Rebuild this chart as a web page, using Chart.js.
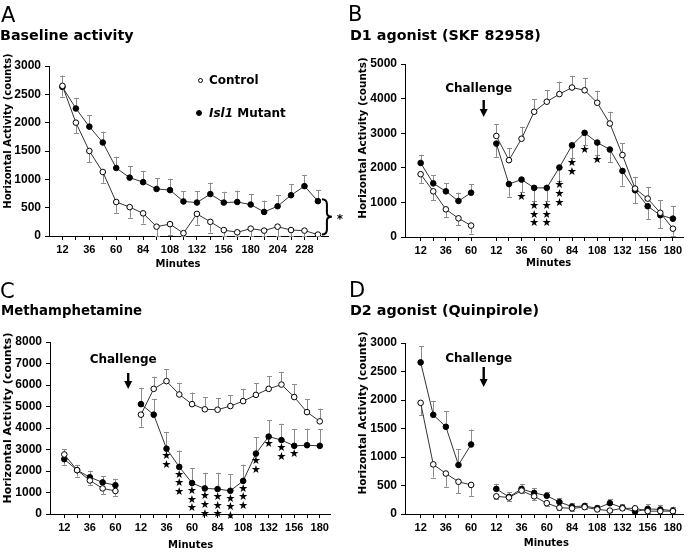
<!DOCTYPE html>
<html>
<head>
<meta charset="utf-8">
<script src="https://cdn.jsdelivr.net/npm/chart.js@4"></script>
<style>
  body { margin: 0; background: #fff; }
  #fig { position: relative; width: 688px; height: 552px; overflow: hidden; font-family: "DejaVu Sans", sans-serif; color: #000; }
  .panel { position: absolute; width: 344px; height: 276px; }
  .t { position: absolute; white-space: nowrap; line-height: 1; }
  .b { font-weight: bold; }
  .c { transform: translate(-50%, -50%); }
  .r { transform: translate(-50%, -50%) rotate(-90deg); }
  .dot { position: absolute; border-radius: 50%; box-sizing: border-box; border: 1px solid #000; }
</style>
</head>
<body>
<div id="fig">
  <div class="panel" style="left:0;top:0"><canvas id="chartA" width="344" height="276"></canvas></div>
  <div class="panel" style="left:344px;top:0"><canvas id="chartB" width="344" height="276"></canvas></div>
  <div class="panel" style="left:0;top:276px"><canvas id="chartC" width="344" height="276"></canvas></div>
  <div class="panel" style="left:344px;top:276px"><canvas id="chartD" width="344" height="276"></canvas></div>

  <div class="t" style="left:1px;top:5px;font-size:21px">A</div>
  <div class="t b" style="left:0;top:28px;font-size:14.3px">Baseline activity</div>
  <div class="t" style="left:348px;top:4px;font-size:21px">B</div>
  <div class="t b" style="left:350px;top:28px;font-size:14.3px">D1 agonist (SKF 82958)</div>
  <div class="t" style="left:0;top:281px;font-size:21px">C</div>
  <div class="t b" style="left:1px;top:304px;font-size:13.3px">Methamphetamine</div>
  <div class="t" style="left:349px;top:280px;font-size:21px">D</div>
  <div class="t b" style="left:350px;top:303px;font-size:14.3px">D2 agonist (Quinpirole)</div>

  <div class="t b r" style="left:7.5px;top:131px;font-size:10px">Horizontal Activity (counts)</div>
  <div class="t b r" style="left:362px;top:137.5px;font-size:10.4px">Horizontal Activity (counts)</div>
  <div class="t b r" style="left:7.3px;top:418px;font-size:11px">Horizontal Activity (counts)</div>
  <div class="t b r" style="left:362.3px;top:412.7px;font-size:10.5px">Horizontal Activity (counts)</div>

  <div class="t b c" style="left:178px;top:264px;font-size:10px">Minutes</div>
  <div class="t b c" style="left:548.7px;top:263.3px;font-size:10px">Minutes</div>
  <div class="t b c" style="left:190.7px;top:545.3px;font-size:10px">Minutes</div>
  <div class="t b c" style="left:546.3px;top:542.7px;font-size:10px">Minutes</div>

  <div class="dot" style="left:197.5px;top:77.5px;width:5px;height:5px;background:#fff"></div>
  <div class="t b" style="left:209px;top:74px;font-size:12px">Control</div>
  <div class="dot" style="left:196px;top:110px;width:6px;height:6px;background:#000"></div>
  <div class="t b" style="left:209px;top:107px;font-size:12px"><i>Isl1</i> Mutant</div>
</div>

<script>
// ---- A: baseline activity, 12-min bins ----
const aMinutes = [12, 24, 36, 48, 60, 72, 84, 96, 108, 120, 132, 144, 156, 168, 180, 192, 204, 216, 228, 240];
const aTickLabels = ['12', '', '36', '', '60', '', '84', '', '108', '', '132', '', '156', '', '180', '', '204', '', '228', ''];
const aControl = [2650, 2000, 1500, 1130, 600, 510, 400, 165, 210, 50, 390, 250, 105, 65, 130, 95, 165, 105, 95, 25];
const aControlErr = [-190, -190, -200, -190, -190, -190, -180, -180, -190, -180, -190, -190, -100, -65, -130, -95, -165, -105, -95, -25];
const aMutant = [2630, 2250, 1930, 1650, 1200, 1030, 950, 830, 810, 610, 590, 740, 590, 600, 555, 425, 525, 720, 880, 615];
const aMutantErr = [200, 190, 200, 190, 200, 200, 200, 190, 200, 180, 200, 200, 190, 200, 190, 200, 190, 200, 200, 190];

// ---- shared x categories for the challenge panels (pre / post) ----
const preMinutes = [12, 24, 36, 48, 60];
const postMinutes = [12, 24, 36, 48, 60, 72, 84, 96, 108, 120, 132, 144, 156, 168, 180];
const challengeTickLabels = ['12', '', '36', '', '60', '12', '', '36', '', '60', '', '84', '', '108', '', '132', '', '156', '', '180'];

// ---- B: D1 agonist ----
const bPreControl = [1815, 1320, 800, 540, 330];
const bPreControlErr = [-250, -260, -220, -200, -230];
const bPreMutant = [2140, 1550, 1320, 1040, 1280];
const bPreMutantErr = [240, 230, 240, 240, 240];
const bPostControl = [2920, 2220, 2840, 3620, 3910, 4130, 4320, 4240, 3880, 3280, 2370, 1400, 1110, 700, 240];
const bPostControlErr = [340, 340, 350, 360, 340, 360, 340, 350, 350, 340, 340, 340, 340, 370, -200];
const bPostMutant = [2700, 1530, 1660, 1420, 1420, 2010, 2650, 3010, 2730, 2530, 1910, 1350, 890, 630, 530];
const bPostMutantErr = [-385, -365, -370, -380, -380, -380, -380, -360, -370, -370, -430, -380, -380, -380, 360];
const bStars = [0, 0, 1, 3, 3, 3, 2, 1, 1, 0, 0, 0, 0, 0, 0];

// ---- C: methamphetamine ----
const cPreControl = [2770, 2040, 1560, 1190, 1070];
const cPreControlErr = [250, 250, -220, -260, -220];
const cPreMutant = [2550, 2040, 1710, 1470, 1340];
const cPreMutantErr = [-260, -300, 300, 300, 300];
const cPostControl = [4620, 5820, 6180, 5560, 5110, 4870, 4850, 5020, 5250, 5540, 5820, 6020, 5440, 4740, 4310];
const cPostControlErr = [-560, 570, 560, 540, 540, 555, 555, 510, 570, 555, 590, 590, 590, 590, 590];
const cPostMutant = [5110, 4620, 3040, 2190, 1440, 1190, 1160, 1080, 1540, 2810, 3600, 3440, 3170, 3200, 3170];
const cPostMutantErr = [760, 740, 770, 760, 700, 725, 760, 760, 760, 770, 760, 760, 770, 770, 770];
const cStars = [0, 0, 2, 3, 3, 3, 3, 3, 3, 2, 1, 2, 1, 0, 0];

// ---- D: D2 agonist ----
const dPreControl = [1950, 870, 710, 565, 510];
const dPreControlErr = [-220, -230, -230, -200, -190];
const dPreMutant = [2660, 1740, 1530, 860, 1220];
const dPreMutantErr = [280, 245, 275, 275, 262];
const dPostControl = [310, 290, 410, 310, 190, 110, 100, 120, 80, 60, 100, 100, 50, 50, 50];
const dPostControlErr = [-50, -60, -50, -60, -50, -40, -40, -40, -30, -30, -30, -30, -30, -30, -30];
const dPostMutant = [440, 300, 440, 370, 320, 210, 130, 140, 100, 190, 110, 40, 90, 80, 60];
const dPostMutantErr = [90, 80, 90, 80, 70, 70, 60, 60, 60, 70, 60, 50, 80, 80, 70];

const FONT = '"DejaVu Sans", sans-serif';
const TICKFONT = '"Liberation Sans", Arial, sans-serif';
const GAP = 5; // empty slot where the drug is given

// slot positions on the x axis: pre at 0..4, gap, post from 6
const prePos = preMinutes.map((m, i) => i);
const postPos = postMinutes.map((m, i) => i + GAP + 1);
const challengePos = prePos.concat(postPos);

function joinSeg(pre, post) {
  return pre.concat([null], post);
}
function points(xs, ys) {
  return xs.map((x, i) => ({x: x, y: ys[i]}));
}

// error bars, one-sided: + goes up, - goes down
const errorBars = {
  id: 'errorBars',
  beforeDatasetsDraw(chart) {
    const ctx = chart.ctx, ys = chart.scales.y;
    ctx.save();
    ctx.strokeStyle = '#8c8c8c';
    ctx.lineWidth = 1;
    chart.data.datasets.forEach((ds, di) => {
      const meta = chart.getDatasetMeta(di);
      meta.data.forEach((pt, i) => {
        const v = ds.data[i].y, e = ds.errors[i];
        if (v == null || e == null) return;
        const end = ys.getPixelForValue(Math.max(0, v + e));
        const x = Math.round(pt.x) + 0.5;
        ctx.beginPath();
        ctx.moveTo(x, pt.y);
        ctx.lineTo(x, end);
        ctx.moveTo(x - 2.5, Math.round(end) + 0.5);
        ctx.lineTo(x + 2.5, Math.round(end) + 0.5);
        ctx.stroke();
      });
    });
    ctx.restore();
  }
};

// significance stars below the mutant points
const starMarks = {
  id: 'stars',
  afterDatasetsDraw(chart, args, o) {
    const ds = chart.data.datasets[1];
    if (!ds.stars) return;
    const ctx = chart.ctx, ys = chart.scales.y;
    const meta = chart.getDatasetMeta(1);
    ctx.save();
    ctx.fillStyle = '#000';
    ctx.font = '11px ' + FONT;
    ctx.textAlign = 'center';
    ctx.textBaseline = 'middle';
    meta.data.forEach((pt, i) => {
      const n = ds.stars[i];
      if (!n) return;
      const v = ds.data[i].y, e = ds.errors[i];
      let low = pt.y;
      if (e < 0) low = Math.max(low, ys.getPixelForValue(Math.max(0, v + e)));
      for (let k = 0; k < n; k++) ctx.fillText('★', pt.x, low + o.gap + k * 8.7);
    });
    ctx.restore();
  }
};

// "Challenge" label with the down arrow
const challengeArrow = {
  id: 'challenge',
  afterDatasetsDraw(chart, args, o) {
    if (!o || o.at == null) return;
    const ctx = chart.ctx, top = chart.chartArea.top;
    const x = chart.scales.x.getPixelForValue(o.at);
    ctx.save();
    ctx.fillStyle = '#000';
    ctx.font = 'bold 12px ' + FONT;
    ctx.textAlign = 'center';
    ctx.textBaseline = 'middle';
    ctx.fillText('Challenge', x - 5, top + o.textY);
    const y0 = top + o.arrowTop, y1 = top + o.arrowBottom;
    ctx.fillRect(x - 1.2, y0, 2.4, y1 - y0 - 7);
    ctx.beginPath();
    ctx.moveTo(x - 4, y1 - 8);
    ctx.lineTo(x + 4, y1 - 8);
    ctx.lineTo(x, y1);
    ctx.closePath();
    ctx.fill();
    ctx.restore();
  }
};

// brace + star next to the last bin of panel A
const bracket = {
  id: 'brace',
  afterDatasetsDraw(chart, args, o) {
    if (!o || !o.show) return;
    const ctx = chart.ctx;
    const m0 = chart.getDatasetMeta(0), m1 = chart.getDatasetMeta(1);
    const p0 = m0.data[m0.data.length - 1], p1 = m1.data[m1.data.length - 1];
    const x = p0.x + 4, top = p1.y - 2, bot = p0.y, mid = (top + bot) / 2;
    ctx.save();
    ctx.strokeStyle = '#000';
    ctx.lineWidth = 2;
    ctx.beginPath();
    ctx.moveTo(x, top);
    ctx.quadraticCurveTo(x + 5, top, x + 5, top + 5);
    ctx.lineTo(x + 5, mid - 4);
    ctx.quadraticCurveTo(x + 5, mid, x + 10, mid);
    ctx.quadraticCurveTo(x + 5, mid, x + 5, mid + 4);
    ctx.lineTo(x + 5, bot - 5);
    ctx.quadraticCurveTo(x + 5, bot, x, bot);
    ctx.stroke();
    ctx.fillStyle = '#000';
    ctx.font = 'bold 12px ' + FONT;
    ctx.textAlign = 'center';
    ctx.textBaseline = 'middle';
    ctx.fillText('*', x + 18, mid + 3);
    ctx.restore();
  }
};

function makeChart(id, cfg) {
  const a = cfg.area;
  const line = {borderColor: '#333', borderWidth: 1, tension: 0, pointRadius: 2.8, pointBorderWidth: 1, pointBorderColor: '#000', spanGaps: false};
  return new Chart(document.getElementById(id), {
    type: 'line',
    data: {
      datasets: [
        Object.assign({label: 'Control', data: cfg.control, errors: cfg.controlErr, pointBackgroundColor: '#fff'}, line),
        Object.assign({label: 'Isl1 Mutant', data: cfg.mutant, errors: cfg.mutantErr, stars: cfg.stars, pointBackgroundColor: '#000'}, line)
      ]
    },
    options: {
      responsive: false,
      animation: false,
      events: [],
      layout: {padding: {left: 0, top: a.top, right: 344 - a.right, bottom: 0}},
      plugins: {
        legend: {display: false},
        tooltip: {enabled: false},
        challenge: cfg.challenge || {},
        brace: {show: !!cfg.brace},
        stars: {gap: cfg.starGap || 6}
      },
      scales: {
        x: {
          type: 'linear',
          min: cfg.xMin,
          max: cfg.xMax,
          afterBuildTicks: s => { s.ticks = cfg.pos.map(v => ({value: v})); },
          afterFit: s => { s.height = 276 - a.bottom; },
          ticks: {
            autoSkip: false, maxRotation: 0, padding: 3, color: '#000',
            font: {family: TICKFONT, size: 11, weight: 'bold'},
            callback: v => { const i = cfg.pos.indexOf(v); return i >= 0 ? cfg.labels[i] : ''; }
          },
          grid: {drawOnChartArea: false, tickLength: 4, color: '#000'},
          border: {color: '#000', width: 1}
        },
        y: {
          min: 0,
          max: cfg.yMax,
          afterFit: s => { s.width = a.left; },
          ticks: {
            stepSize: cfg.yStep, padding: 4, color: '#000',
            font: {family: TICKFONT, size: 12, weight: 'bold'},
            callback: v => String(v)
          },
          grid: {drawOnChartArea: false, tickLength: 4, color: '#000'},
          border: {color: '#000', width: 1}
        }
      }
    },
    plugins: [errorBars, starMarks, challengeArrow, bracket]
  });
}

makeChart('chartA', {
  area: {left: 49, top: 66, right: 328, bottom: 236},
  pos: aMinutes, labels: aTickLabels, xMin: 0, xMax: 249,
  yMax: 3000, yStep: 500,
  control: points(aMinutes, aControl), controlErr: aControlErr,
  mutant: points(aMinutes, aMutant), mutantErr: aMutantErr,
  brace: true
});

const segX = prePos.concat([GAP], postPos);

makeChart('chartB', {
  area: {left: 61, top: 64, right: 340, bottom: 237},
  pos: challengePos, labels: challengeTickLabels, xMin: -1.24, xMax: 20.8,
  yMax: 5000, yStep: 1000,
  control: points(segX, joinSeg(bPreControl, bPostControl)), controlErr: joinSeg(bPreControlErr, bPostControlErr),
  mutant: points(segX, joinSeg(bPreMutant, bPostMutant)), mutantErr: joinSeg(bPreMutantErr, bPostMutantErr),
  stars: joinSeg(preMinutes.map(() => 0), bStars), starGap: 5,
  challenge: {at: GAP, textY: 25, arrowTop: 36, arrowBottom: 53}
});

makeChart('chartC', {
  area: {left: 50, top: 66, right: 330, bottom: 238},
  pos: challengePos, labels: challengeTickLabels, xMin: -1.12, xMax: 20.8,
  yMax: 8000, yStep: 1000,
  control: points(segX, joinSeg(cPreControl, cPostControl)), controlErr: joinSeg(cPreControlErr, cPostControlErr),
  mutant: points(segX, joinSeg(cPreMutant, cPostMutant)), mutantErr: joinSeg(cPreMutantErr, cPostMutantErr),
  stars: joinSeg(preMinutes.map(() => 0), cStars), starGap: 8,
  challenge: {at: GAP, textY: 18, arrowTop: 31, arrowBottom: 47}
});

makeChart('chartD', {
  area: {left: 61, top: 67, right: 340, bottom: 238},
  pos: challengePos, labels: challengeTickLabels, xMin: -1.24, xMax: 20.8,
  yMax: 3000, yStep: 500,
  control: points(segX, joinSeg(dPreControl, dPostControl)), controlErr: joinSeg(dPreControlErr, dPostControlErr),
  mutant: points(segX, joinSeg(dPreMutant, dPostMutant)), mutantErr: joinSeg(dPreMutantErr, dPostMutantErr),
  challenge: {at: GAP, textY: 16, arrowTop: 24, arrowBottom: 44}
});
</script>
</body>
</html>
